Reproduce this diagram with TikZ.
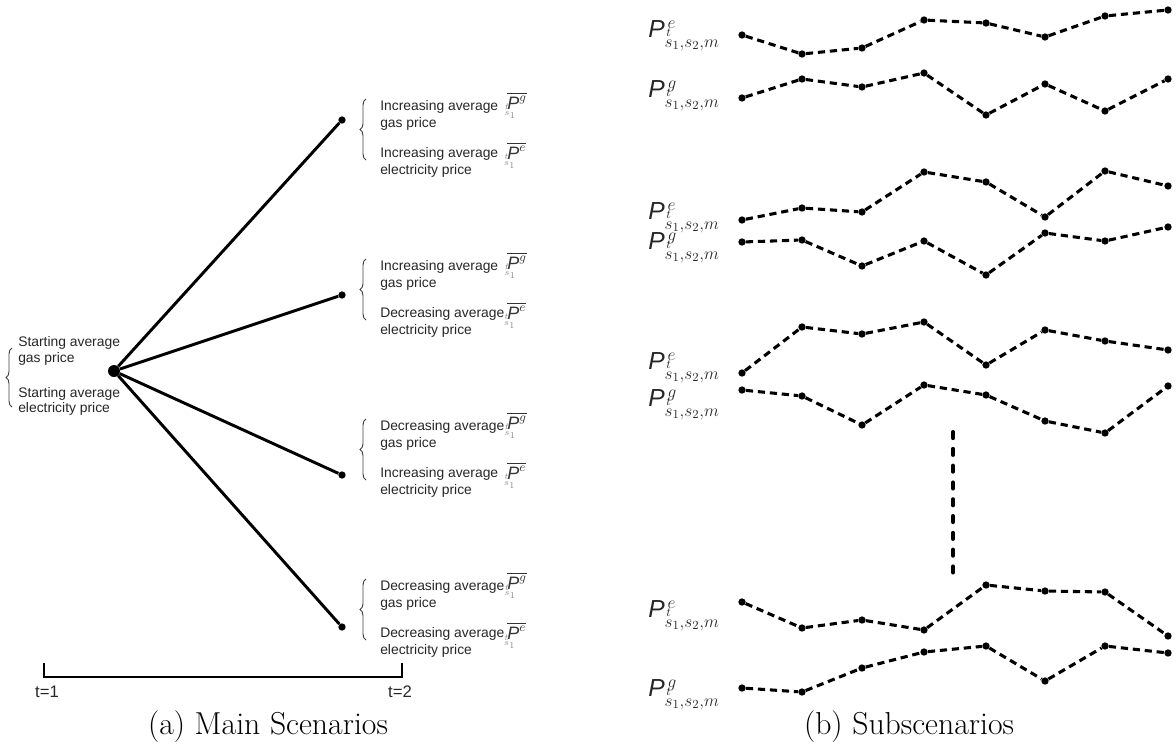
\RequirePackage{fix-cm}
\documentclass[tikz,border=0pt]{standalone}
\usepackage{amsmath}
\usepackage{fontspec}
\newfontfamily\arialf{Liberation Sans}
\usetikzlibrary{decorations.pathreplacing}

% s_1 with the stage index t set over it, without adding height
\newcommand{\stage}{\smash[t]{\overset{t}{s}}_1}
% price symbol of a subscenario series
\newcommand{\seriesP}[1]{{\arialf\itshape P}$^{\,#1}_{\raisebox{-3pt}{$\scriptstyle\stage,s_2,m$}}$}
% average price symbol of a main scenario
\newcommand{\avgP}[1]{$\overline{\mbox{\arialf\itshape P}^{#1}}$\llap{\raisebox{-5pt}{\color{black!45}$\scriptscriptstyle\stage$}\hspace{8pt}}}

\tikzset{
  rootdot/.style={circle,fill=black,inner sep=0pt,minimum size=9pt},
  enddot/.style={circle,fill=black,inner sep=0pt,minimum size=5.5pt},
  sdot/.style={circle,fill=black,inner sep=0pt,minimum size=5.5pt},
  branch/.style={line width=2.2pt},
  series/.style={line width=2.3pt,dash pattern=on 5.4pt off 3.6pt},
  vdots/.style={line width=3pt,line cap=round,dash pattern=on 4.6pt off 8pt},
  txt/.style={font=\arialf\fontsize{10.4}{12.5}\selectfont,anchor=base west,inner sep=0pt,text=black!85},
  tlab/.style={font=\arialf\fontsize{12.5}{15}\selectfont,anchor=base,inner sep=0pt,text=black!85},
  sym/.style={font=\fontsize{13.5}{16}\selectfont,anchor=base west,inner sep=0pt,text=black!80},
  slab/.style={font=\fontsize{18.5}{21}\selectfont,anchor=base west,inner sep=0pt,text=black!85},
  brc/.style={decorate,decoration={brace,amplitude=4.5pt},line width=0.7pt,draw=black!75},
  subcap/.style={font=\fontsize{23.8}{28}\selectfont,anchor=base,inner sep=0pt},
}

\begin{document}
\begin{tikzpicture}[x=0.75pt,y=-0.75pt]
\useasboundingbox (0,0) rectangle (1176,753);

% ---------- (a) main scenarios ----------
\node[rootdot] (root) at (114,371) {};
\node[enddot] (e0) at (342,120) {};
\node[enddot] (e1) at (342,295) {};
\node[enddot] (e2) at (342,475) {};
\node[enddot] (e3) at (342,627) {};
\foreach \k in {0,...,3} { \draw[branch] (root) -- (e\k); }

% starting point description
\node[txt] (s1) at (18,346) {Starting average};
\node[txt] (s2) at (18,362) {gas price};
\node[txt] (s3) at (18,397) {Starting average};
\node[txt] (s4) at (18,412) {electricity price};
\draw[brc] (12,407) -- (12,348);

% descriptions of the four main scenarios
\foreach \k/\ga/\el in {0/Increasing/Increasing,1/Increasing/Decreasing,2/Decreasing/Increasing,3/Decreasing/Decreasing}{
  \node[txt] (g\k a) at (380,{110+160*\k}) {\ga\ average};
  \node[txt] (g\k b) at (380,{127+160*\k}) {gas price};
  \node[txt] (g\k c) at (380,{157+160*\k}) {\el\ average};
  \node[txt] (g\k d) at (380,{174+160*\k}) {electricity price};
  \node[sym] (pg\k) at (507,{109+160*\k}) {\avgP{g}};
  \node[sym] (pe\k) at (507,{159+160*\k}) {\avgP{e}};
  \draw[brc] (366,{160+160*\k}) -- (366,{99+160*\k});
}

% time axis
\coordinate (t1top) at (44,663);
\coordinate (t1) at (44,677);
\coordinate (t2) at (402,677);
\coordinate (t2top) at (402,663);
\draw[line width=2.2pt] (t1top) -- (t1) -- (t2) -- (t2top);
\node[tlab] (t1l) at (47,697) {t=1};
\node[tlab] (t2l) at (400,697) {t=2};

\node[subcap] (capa) at (268,734) {(a) Main Scenarios};

% ---------- (b) subscenarios ----------
\foreach \r/\ys in {
  1/{35,54,48,20,23,37,16,10},
  2/{98,79,87,73,115,84,111,79},
  3/{220,208,212,172,182,217,171,186},
  4/{242,240,266,241,275,233,241,227},
  5/{373,327,334,322,365,330,341,350},
  6/{390,396,425,385,395,421,433,386},
  7/{602,628,620,630,585,591,592,636},
  8/{688,692,668,652,646,681,646,653}}{
  \foreach \y [count=\i] in \ys {
    \pgfmathsetmacro{\xx}{{742,802,862,924,986,1045,1105,1168}[\i-1]}
    \node[sdot] (r\r-\i) at (\xx,\y) {};
  }
  \foreach \i [evaluate=\i as \j using int(\i+1)] in {1,...,7} {
    \draw[series] (r\r-\i) -- (r\r-\j);
  }
}

% series labels
\foreach \r/\c/\b in {1/e/37,2/g/97,3/e/219,4/g/249,5/e/369,6/g/406,7/e/617,8/g/696}{
  \node[slab] (l\r) at (648,\b) {\seriesP{\c}};
}

% remaining subscenarios
\coordinate (vtop) at (953,432);
\coordinate (vbot) at (953,573);
\draw[vdots] (vtop) -- (vbot);

\node[subcap] (capb) at (909,734) {(b) Subscenarios};
\end{tikzpicture}
\end{document}
